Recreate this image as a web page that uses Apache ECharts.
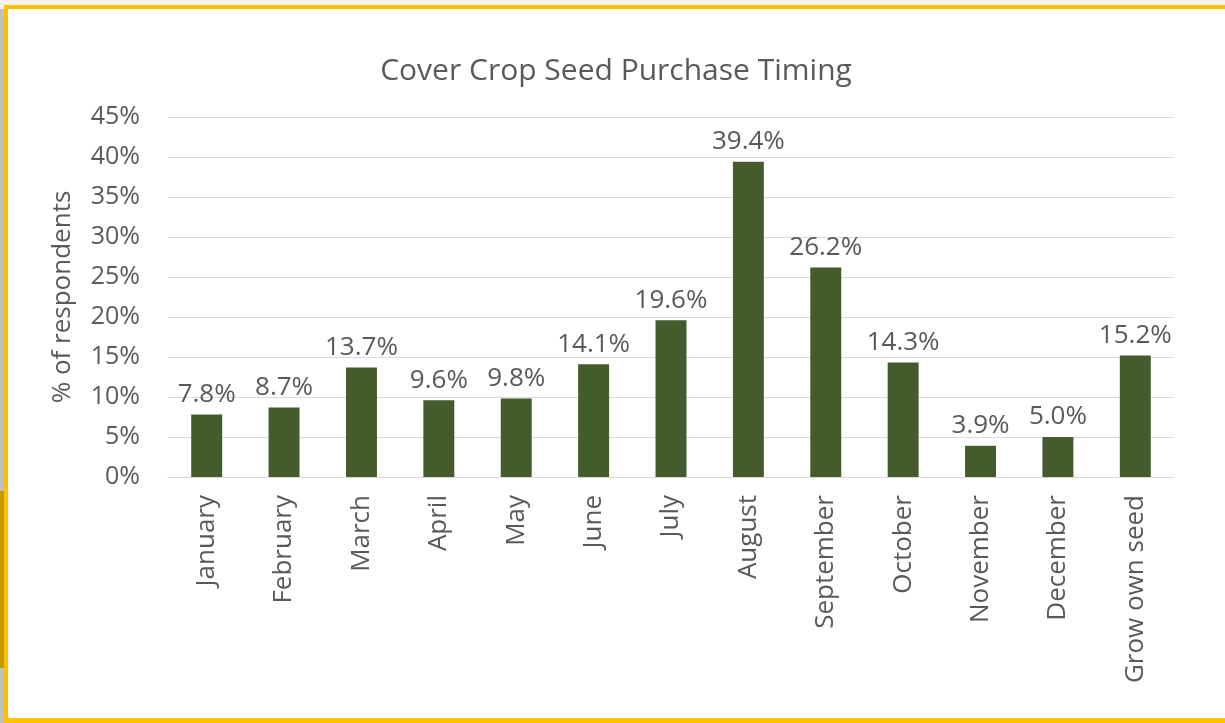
<!DOCTYPE html>
<html>
<head>
<meta charset="utf-8">
<script src="https://cdn.jsdelivr.net/npm/echarts@6/dist/echarts.min.js"></script>
<style>
  html, body { margin: 0; padding: 0; width: 1225px; height: 723px; overflow: hidden; background: #f2f2f2; }
  #strip { position: absolute; left: 0; top: 9px; width: 4px; height: 714px; background: #bfbfbf; }
  #strip2 { position: absolute; left: 0; top: 491px; width: 4px; height: 177px; background: #c49a00; }
  #frame { position: absolute; left: 4px; top: 5px; width: 1225px; height: 709px; background: #ffffff;
           border-top: 4px solid #FFC000; border-left: 4px solid #FFC000; border-bottom: 5px solid #FFC000; }
  #chart { position: absolute; left: 0; top: 0; width: 1225px; height: 723px; }
</style>
</head>
<body>
<div id="strip"></div>
<div id="strip2"></div>
<div id="frame"></div>
<div id="chart"></div>
<script>
const categories = ["January", "February", "March", "April", "May", "June", "July", "August", "September", "October", "November", "December", "Grow own seed"];
const values = [7.8, 8.7, 13.7, 9.6, 9.8, 14.1, 19.6, 39.4, 26.2, 14.3, 3.9, 5.0, 15.2];
const titleText = "Cover Crop Seed Purchase Timing";
const yAxisName = "% of respondents";

const FONT = "'Open Sans', sans-serif";
const TXT = "#595959";

const chart = echarts.init(document.getElementById('chart'), null, { renderer: 'canvas' });
chart.setOption({
  backgroundColor: 'transparent',
  animation: false,
  title: {
    text: titleText,
    left: 611, top: 51, textAlign: 'center',
    textStyle: { fontFamily: FONT, fontSize: 30, fontWeight: 'normal', color: TXT }
  },
  grid: { left: 168, right: 51, top: 117, bottom: 246, containLabel: false },
  xAxis: {
    type: 'category',
    data: categories,
    axisLine: { lineStyle: { color: '#d9d9d9', width: 1 } },
    axisTick: { show: false },
    axisLabel: { rotate: 90, margin: 18, fontFamily: FONT, fontSize: 26, color: TXT, interval: 0 }
  },
  yAxis: {
    type: 'value',
    min: 0, max: 45, interval: 5,
    name: yAxisName,
    nameLocation: 'middle',
    nameGap: 92,
    nameTextStyle: { fontFamily: FONT, fontSize: 26, color: TXT },
    axisLine: { show: false },
    axisTick: { show: false },
    splitLine: { lineStyle: { color: '#d9d9d9', width: 1 } },
    axisLabel: { margin: 28, fontFamily: FONT, fontSize: 25, color: TXT, formatter: v => v + '%' }
  },
  series: [{
    type: 'bar',
    data: values,
    barWidth: '40%',
    itemStyle: { color: '#445B2C' },
    label: {
      show: true, position: 'top', distance: 7,
      fontFamily: FONT, fontSize: 26, color: TXT,
      formatter: p => p.value.toFixed(1) + '%'
    }
  }]
});
</script>
</body>
</html>
